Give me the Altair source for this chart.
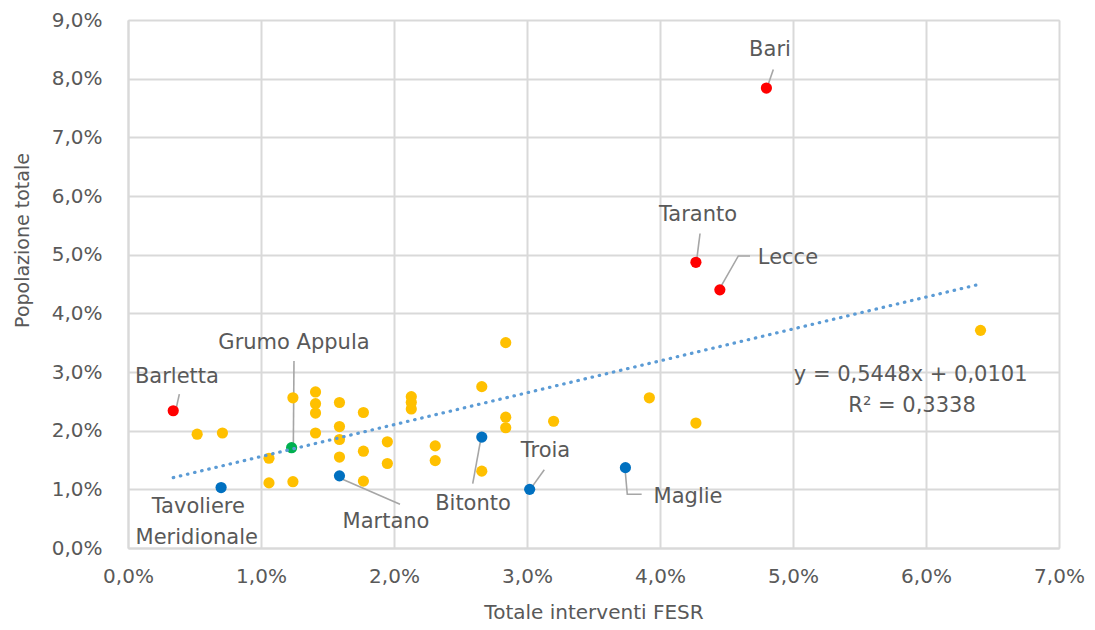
import altair as alt
import pandas as pd

FONT = "DejaVu Sans"
GRAY_TXT = "#595959"

# ---- data (fractions) ----
red_names = ["Bari", "Taranto", "Lecce", "Barletta"]
red_x = [0.0480, 0.0427, 0.0445, 0.0034]
red_y = [0.0784, 0.0487, 0.0440, 0.0234]

blue_names = ["Tavoliere Meridionale", "Martano", "Bitonto", "Troia", "Maglie"]
blue_x = [0.0070, 0.0159, 0.0266, 0.0302, 0.0374]
blue_y = [0.0103, 0.0123, 0.0189, 0.0100, 0.0137]

green_names = ["Grumo Appula"]
green_x = [0.0123]
green_y = [0.0171]

yellow_x = [0.0052, 0.0071, 0.0106, 0.0106, 0.0124, 0.0124, 0.0141, 0.0141, 0.0141,
            0.0141, 0.0159, 0.0159, 0.0159, 0.0159, 0.0177, 0.0177, 0.0177, 0.0195,
            0.0195, 0.0213, 0.0213, 0.0213, 0.0231, 0.0231, 0.0266, 0.0266, 0.0284,
            0.0284, 0.0284, 0.0320, 0.0392, 0.0427, 0.0641]
yellow_y = [0.0194, 0.0196, 0.0153, 0.0111, 0.0256, 0.0113, 0.0266, 0.0246, 0.0230,
            0.0196, 0.0248, 0.0207, 0.0185, 0.0155, 0.0231, 0.0165, 0.0114, 0.0181,
            0.0144, 0.0258, 0.0248, 0.0237, 0.0174, 0.0149, 0.0275, 0.0131, 0.0350,
            0.0223, 0.0205, 0.0216, 0.0256, 0.0213, 0.0371]

# trendline endpoints (y = 0,5448x + 0,0101)
trend_x = [0.0034, 0.0641]
trend_y = [0.0120, 0.0450]

# data labels (anchor in data units)
label_text = ["Bari", "Taranto", "Lecce", "Barletta", "Grumo Appula", "Tavoliere",
              "Meridionale", "Martano", "Bitonto", "Troia", "Maglie",
              "y = 0,5448x + 0,0101", "R² = 0,3338"]
label_x = [0.04827, 0.04286, 0.04962, 0.00368, 0.01248, 0.00529, 0.00517, 0.01940,
           0.02594, 0.03139, 0.04211, 0.05885, 0.05895]
label_y = [0.08492, 0.05678, 0.04937, 0.02915, 0.03497, 0.00700, 0.00169, 0.00441,
           0.00758, 0.01661, 0.00869, 0.02949, 0.02424]

# leader lines
leader_id = ["Bari", "Bari", "Taranto", "Taranto", "Lecce", "Lecce", "Lecce",
             "Barletta", "Barletta", "Grumo", "Grumo", "Martano", "Martano",
             "Bitonto", "Bitonto", "Troia", "Troia", "Maglie", "Maglie", "Maglie"]
leader_x = [0.04852, 0.04814, 0.04301, 0.04276, 0.04677, 0.04589, 0.04451,
            0.00386, 0.00361, 0.01248, 0.01243, 0.01617, 0.02045,
            0.02652, 0.02592, 0.03130, 0.03028, 0.03737, 0.03754, 0.03862]
leader_y = [0.08158, 0.07904, 0.05361, 0.04915, 0.04978, 0.04978, 0.04429,
            0.02622, 0.02368, 0.03186, 0.01717, 0.01169, 0.00746,
            0.01847, 0.01097, 0.01334, 0.01012, 0.01351, 0.00915, 0.00915]

x_ticks = [0.0, 0.01, 0.02, 0.03, 0.04, 0.05, 0.06, 0.07]
y_ticks = [0.0, 0.01, 0.02, 0.03, 0.04, 0.05, 0.06, 0.07, 0.08, 0.09]

# ---- tables ----
pts = pd.DataFrame({
    "x": red_x + blue_x + green_x + yellow_x,
    "y": red_y + blue_y + green_y + yellow_y,
    "g": ["Rosso"] * len(red_x) + ["Blu"] * len(blue_x) + ["Verde"] * len(green_x)
         + ["Giallo"] * len(yellow_x),
})
trend = pd.DataFrame({"x": trend_x, "y": trend_y})
labels = pd.DataFrame({"t": label_text, "x": label_x, "y": label_y})
leaders = pd.DataFrame({"id": leader_id, "x": leader_x, "y": leader_y,
                        "o": list(range(len(leader_x)))})

lab_expr = "replace(format(datum.value, '.1%'), '.', ',')"

xs = alt.Scale(domain=[0, 0.07], nice=False, zero=False)
ys = alt.Scale(domain=[0, 0.09], nice=False, zero=False)

x_axis = alt.Axis(values=x_ticks, labelExpr=lab_expr, title="Totale interventi FESR",
                  grid=True, gridColor="#D9D9D9", gridWidth=2, ticks=False, tickSize=0,
                  domainColor="#D9D9D9", domainWidth=2, labelPadding=18, labelFlush=False,
                  labelFont=FONT, labelFontSize=20, labelColor=GRAY_TXT,
                  titleFont=FONT, titleFontSize=20, titleColor=GRAY_TXT,
                  titleFontWeight="normal", titleY=64, titleBaseline="middle")
y_axis = alt.Axis(values=y_ticks, labelExpr=lab_expr, title="Popolazione totale",
                  grid=True, gridColor="#D9D9D9", gridWidth=2, ticks=False, tickSize=0,
                  domainColor="#D9D9D9", domainWidth=2, labelPadding=26, labelFlush=False,
                  labelFont=FONT, labelFontSize=20, labelColor=GRAY_TXT,
                  titleFont=FONT, titleFontSize=19, titleColor=GRAY_TXT,
                  titleFontWeight="normal", titleX=-106, titleY=220,
                  titleBaseline="middle", titleAngle=270)

base_grid = alt.Chart(pts).mark_point(opacity=0).encode(
    x=alt.X("x:Q", scale=xs, axis=x_axis),
    y=alt.Y("y:Q", scale=ys, axis=y_axis),
)

leader_layer = alt.Chart(leaders).mark_line(color="#A6A6A6", strokeWidth=1.6).encode(
    x=alt.X("x:Q", scale=xs), y=alt.Y("y:Q", scale=ys),
    detail="id:N", order="o:Q",
)

points = alt.Chart(pts).mark_circle(size=125, opacity=1).encode(
    x=alt.X("x:Q", scale=xs), y=alt.Y("y:Q", scale=ys),
    color=alt.Color("g:N", legend=None,
                    scale=alt.Scale(domain=["Rosso", "Blu", "Verde", "Giallo"],
                                    range=["#FF0000", "#0070C0", "#00B050", "#FFC000"])),
)

trend_layer = alt.Chart(trend).mark_line(color="#5B9BD5", strokeWidth=3.2,
                                         strokeCap="round", strokeDash=[0.5, 6.8]).encode(
    x=alt.X("x:Q", scale=xs), y=alt.Y("y:Q", scale=ys),
)

text_layer = alt.Chart(labels).mark_text(font=FONT, fontSize=21, color=GRAY_TXT,
                                         align="center", baseline="middle").encode(
    x=alt.X("x:Q", scale=xs), y=alt.Y("y:Q", scale=ys), text="t:N",
)

chart = alt.layer(base_grid, leader_layer, points, trend_layer, text_layer).properties(
    width=931, height=528,
    autosize=alt.AutoSizeParams(type="none"),
    padding={"left": 120, "top": 12, "right": 28, "bottom": 74},
).configure_view(stroke=None).configure(background="white")

chart.save("out.html", embed_options={"renderer": "svg", "actions": False})
